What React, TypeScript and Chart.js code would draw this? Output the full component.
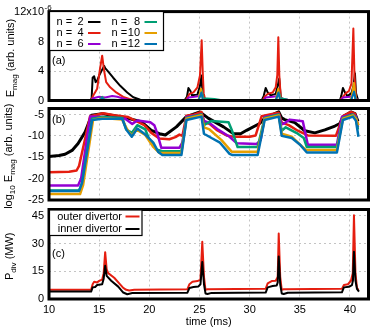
import React, { useEffect, useRef } from 'react';
import { Chart, registerables } from 'chart.js';

Chart.register(...registerables);

const FONT = '"Liberation Sans", Arial, Helvetica, sans-serif';

// ---------- axes ----------
const timeMin = 10;
const timeMax = 41.85;
const timeTicks = [10, 15, 20, 25, 30, 35, 40];
const magTicks = [0, 4, 8, 12];
const logTicks = [-25, -20, -15, -10, -5];
const powTicks = [0, 15, 30, 45];

// ---------- panel (a): E_mag (x1e-6) ----------
const magN2: number[][] = [
  [10, 0], [14.1, 0], [14.25, 0.3], [14.35, 3.1], [14.5, 3.3], [14.65, 2.5], [14.8, 2.7], [15.0, 3.4],
  [15.3, 4.2], [15.5, 4.7], [15.6, 4.4], [15.8, 4.1], [16.4, 3.1], [17.1, 2.0], [17.8, 1.1], [18.4, 0.45],
  [19.1, 0.1], [20, 0], [23.5, 0], [23.75, 0.5], [23.9, 1.7], [24.1, 1.3], [24.25, 0.7], [24.8, 0.8],
  [25.05, 2.0], [25.2, 3.4], [25.3, 1.0], [25.45, 0.1], [26, 0], [31.2, 0], [31.4, 0.6], [31.6, 1.7],
  [31.8, 1.1], [32.1, 0.7], [32.6, 0.9], [32.8, 2.0], [32.95, 3.0], [33.1, 0.5], [33.3, 0], [39.0, 0],
  [39.15, 0.7], [39.3, 1.7], [39.5, 1.1], [39.75, 0.6], [40.15, 1.0], [40.35, 2.0], [40.5, 3.7],
  [40.6, 1.0], [40.8, 0.1],
];
const magN4: number[][] = [
  [10, 0], [14.2, 0], [14.35, 0.5], [14.5, 0.9], [14.8, 1.6], [15.05, 4.0], [15.3, 6.1], [15.5, 4.0],
  [15.7, 2.5], [16.1, 1.8], [16.7, 1.1], [17.4, 0.5], [18.0, 0.2], [18.6, 0], [23.6, 0], [23.8, 0.4],
  [24.0, 0.9], [24.4, 1.1], [24.8, 1.8], [25.05, 3.4], [25.22, 8.2], [25.32, 4.0], [25.42, 1.0],
  [25.55, 0.2], [25.8, 0], [31.3, 0], [31.5, 0.5], [31.8, 0.9], [32.3, 1.1], [32.6, 1.8], [32.76, 3.5],
  [32.86, 8.6], [32.96, 3.4], [33.1, 0.5], [33.3, 0], [39.0, 0], [39.3, 0.5], [39.6, 1.0], [39.9, 1.3],
  [40.15, 2.3], [40.34, 9.8], [40.45, 3.4], [40.6, 0.3], [40.8, 0],
];
const magN6: number[][] = [
  [10, 0], [14.2, 0], [14.4, 0.3], [15.0, 0.5], [15.6, 0.4], [16.3, 0.6], [16.8, 0.5], [17.5, 0.25],
  [18.3, 0], [23.7, 0], [23.9, 0.4], [24.5, 0.5], [25.0, 0.6], [25.2, 1.0], [25.35, 0.3], [26.0, 0.1],
  [27.0, 0], [31.4, 0], [31.6, 0.4], [32.3, 0.5], [32.8, 0.6], [32.9, 1.2], [33.05, 0.3], [33.8, 0.1],
  [34.5, 0], [39.1, 0], [39.3, 0.4], [40.0, 0.5], [40.3, 0.8], [40.4, 1.5], [40.55, 0.3], [40.8, 0],
];
const magN8: number[][] = [
  [10, 0], [15.0, 0], [15.3, 0.5], [15.5, 0.15], [16.5, 0.1], [17.5, 0], [24.9, 0], [25.2, 1.5],
  [25.4, 0.3], [26.5, 0.2], [27.4, 0], [32.6, 0], [32.9, 1.2], [33.1, 0.3], [33.8, 0.1], [34.5, 0],
  [40.1, 0], [40.38, 1.3], [40.55, 0.2], [40.8, 0],
];
const magN10: number[][] = [
  [10, 0], [15.1, 0], [15.3, 0.4], [15.5, 0], [24.9, 0], [25.15, 1.6], [25.35, 0], [32.6, 0],
  [32.85, 1.6], [33.05, 0], [40.1, 0], [40.4, 2.4], [40.6, 0], [40.8, 0],
];
const magN12: number[][] = [
  [10, 0], [15.1, 0], [15.3, 0.4], [15.5, 0], [24.9, 0], [25.2, 1.1], [25.35, 0], [32.6, 0],
  [32.88, 1.1], [33.05, 0], [40.1, 0], [40.42, 1.2], [40.6, 0], [40.8, 0],
];

// ---------- panel (b): log10 E_mag ----------
const logN2: number[][] = [
  [10, -14.8], [11.0, -14.6], [11.6, -14.3], [12.3, -13.4], [12.9, -11.8], [13.6, -9.1], [14.25, -5.2],
  [15.3, -4.8], [16.5, -5.3], [17.9, -5.9], [19.2, -6.7], [20.2, -8.7], [21.0, -9.5], [21.6, -9.8],
  [22.7, -7.9], [23.7, -5.5], [25.05, -4.4], [25.5, -5.2], [25.9, -5.9], [27.4, -7.9], [28.4, -9.5],
  [29.1, -9.5], [29.7, -8.7], [31.0, -7.1], [31.5, -5.9], [32.5, -4.8], [32.9, -4.4], [33.2, -5.8],
  [33.5, -6.2], [34.5, -6.9], [35.5, -8.8], [36.5, -9.3], [37.5, -8.6], [38.5, -7.7], [39.0, -7.1],
  [39.3, -5.5], [40.1, -4.4], [40.5, -4.8], [40.8, -6.6],
];
const logN4: number[][] = [
  [10, -18.5], [12.0, -18.4], [12.75, -18.1], [13.0, -17.0], [14.1, -5.4], [15.4, -4.7], [16.5, -5.2],
  [17.9, -5.6], [19.5, -7.5], [20.2, -9.3], [21.0, -10.6], [22.0, -10.8], [22.6, -10.3], [23.0, -9.7],
  [23.3, -10.0], [23.7, -5.3], [24.5, -5.0], [25.2, -4.4], [25.5, -6.9], [26.0, -7.2], [26.7, -8.6],
  [27.7, -9.9], [28.4, -10.2], [30.0, -10.2], [30.6, -9.9], [31.2, -5.4], [32.0, -5.0], [32.9, -4.6],
  [33.2, -6.9], [33.9, -7.5], [34.8, -8.8], [35.8, -9.9], [38.6, -10.0], [39.3, -5.4], [40.1, -4.4],
  [40.5, -4.8], [40.8, -7.5],
];
const logN6: number[][] = [
  [10, -21.6], [12.9, -21.6], [13.2, -20.0], [14.1, -5.5], [15.4, -5.6], [17.6, -6.0], [18.3, -7.2],
  [18.8, -6.4], [20.1, -6.8], [20.5, -7.5], [20.8, -9.5], [21.2, -12.8], [23.0, -12.8], [23.3, -11.5],
  [23.7, -5.6], [25.2, -5.0], [25.45, -6.5], [26.0, -7.0], [26.9, -8.6], [28.0, -10.2], [28.7, -11.7],
  [30.7, -11.9], [31.1, -11.0], [31.5, -5.6], [32.9, -5.0], [33.2, -7.3], [33.5, -7.0], [34.0, -6.2],
  [35.3, -6.6], [35.8, -12.1], [38.7, -12.1], [39.2, -5.6], [40.3, -5.0], [40.6, -5.5], [40.8, -8.0],
];
const logN8: number[][] = [
  [10, -22.8], [13.0, -22.8], [13.3, -21.0], [14.3, -6.0], [15.3, -5.6], [17.3, -5.8], [17.7, -8.5],
  [18.25, -9.3], [18.8, -7.5], [19.6, -8.5], [20.1, -11.4], [20.7, -13.2], [21.3, -13.6], [23.2, -13.6],
  [23.7, -5.8], [25.2, -5.0], [25.45, -7.5], [25.8, -7.0], [26.2, -6.5], [27.9, -6.8], [28.2, -8.5],
  [28.8, -12.6], [30.8, -12.6], [31.5, -5.8], [32.9, -5.0], [33.2, -8.8], [33.6, -8.0], [34.8, -9.5],
  [35.4, -10.5], [35.7, -12.6], [38.7, -12.6], [39.3, -5.8], [40.3, -5.0], [40.6, -5.8], [40.8, -8.5],
];
const logN10: number[][] = [
  [10, -23.6], [13.1, -23.6], [13.4, -21.5], [14.4, -6.2], [15.3, -5.8], [17.3, -6.2], [17.8, -8.5],
  [18.25, -10.0], [18.7, -8.5], [19.6, -9.8], [20.4, -12.6], [21.0, -14.0], [23.2, -14.0], [23.7, -6.0],
  [25.2, -5.2], [25.45, -8.0], [26.0, -8.5], [27.2, -11.0], [28.2, -13.7], [30.8, -13.7], [31.5, -6.0],
  [32.9, -5.2], [33.2, -9.5], [34.2, -10.2], [35.0, -12.0], [35.6, -13.3], [38.7, -13.3], [39.3, -6.0],
  [40.3, -5.2], [40.6, -6.0], [40.85, -7.5],
];
const logN12: number[][] = [
  [10, -22.9], [13.0, -22.9], [13.3, -21.0], [14.3, -6.3], [15.3, -6.0], [17.3, -6.0], [17.7, -8.5],
  [18.25, -10.2], [18.8, -8.3], [19.6, -9.7], [20.4, -11.6], [20.9, -13.8], [21.3, -14.5], [23.2, -14.5],
  [23.7, -6.3], [25.2, -5.5], [25.45, -9.5], [26.2, -10.5], [27.0, -11.5], [28.0, -14.2], [28.3, -14.5],
  [30.8, -14.5], [31.5, -6.3], [32.9, -5.5], [33.2, -10.0], [34.2, -10.5], [35.0, -12.0], [35.7, -13.9],
  [38.7, -13.9], [39.3, -6.3], [40.3, -5.5], [40.6, -6.5], [40.85, -10.2],
];

// ---------- panel (c): divertor power (MW) ----------
const outerDiv: number[][] = [
  [10, 5.0], [14.2, 5.0], [14.35, 8.0], [14.5, 9.3], [14.8, 9.0], [15.0, 9.8], [15.3, 10.5], [15.45, 14],
  [15.6, 25.4], [15.75, 16], [15.9, 14.0], [16.5, 11.5], [17.0, 8.5], [17.4, 6.0], [17.7, 5.0],
  [18.0, 4.6], [18.5, 5.0], [23.8, 5.3], [24.0, 8.0], [24.3, 9.3], [24.8, 9.7], [25.1, 10.5], [25.28, 31],
  [25.45, 12], [25.6, 5.0], [25.8, 5.3], [31.6, 5.5], [31.8, 8.5], [32.2, 9.7], [32.6, 9.9], [32.8, 12],
  [32.9, 35.5], [33.05, 12], [33.2, 5.0], [33.4, 5.3], [39.2, 5.5], [39.4, 7.6], [39.8, 8.0],
  [40.1, 9.9], [40.28, 14], [40.4, 45.4], [40.55, 14], [40.7, 6], [40.85, 5.0],
];
const innerDiv: number[][] = [
  [10, 4.0], [14.2, 4.0], [14.35, 6.3], [14.6, 6.5], [14.8, 7.6], [15.3, 8.0], [15.45, 11], [15.6, 18],
  [15.75, 12.5], [16.2, 9.9], [16.9, 6.7], [17.4, 3.5], [17.8, 2.6], [18.3, 3.2], [23.8, 3.4],
  [24.0, 6.0], [24.4, 6.5], [24.9, 6.8], [25.1, 8.0], [25.28, 20], [25.45, 8], [25.6, 3.0], [25.8, 2.7],
  [26.2, 3.3], [31.6, 3.5], [31.8, 6.3], [32.3, 7.0], [32.7, 7.3], [32.8, 9], [32.9, 23], [33.05, 8],
  [33.2, 3.0], [33.4, 2.7], [33.8, 3.4], [39.2, 3.6], [39.4, 6.3], [39.9, 6.6], [40.2, 7.5], [40.3, 10],
  [40.4, 25.6], [40.55, 10], [40.7, 5.5], [40.9, 4.0],
];

// ---------- legend labels ----------
const modeNumbers = ['2', '4', '6', '8', '10', '12'];
const divLabels = ['outer divertor', 'inner divertor'];

const C_BLACK = '#000000';
const C_RED = '#e51e10';
const C_PURPLE = '#9400d3';
const C_GREEN = '#009e73';
const C_ORANGE = '#e69f00';
const C_BLUE = '#0072b2';
const modeColors = [C_BLACK, C_RED, C_PURPLE, C_GREEN, C_ORANGE, C_BLUE];

type Seg = { t: string; sub?: boolean };

function drawVerticalRich(ctx: CanvasRenderingContext2D, segs: Seg[], bx: number, cy: number, size: number) {
  ctx.save();
  ctx.translate(bx, cy);
  ctx.rotate(-Math.PI / 2);
  const parts = segs.map((s) => {
    const sz = s.sub ? size * 0.73 : size;
    ctx.font = `${sz}px ${FONT}`;
    return { ...s, sz, w: ctx.measureText(s.t).width };
  });
  const total = parts.reduce((a, p) => a + p.w, 0);
  let x = -total / 2;
  ctx.fillStyle = '#000';
  ctx.textAlign = 'left';
  ctx.textBaseline = 'alphabetic';
  for (const p of parts) {
    ctx.font = `${p.sz}px ${FONT}`;
    ctx.fillText(p.t, x, p.sub ? 3 : 0);
    x += p.w;
  }
  ctx.restore();
}

type PanelDef = {
  id: string;
  series: { data: number[][]; color: string; width: number; order: number }[];
  yMin: number;
  yMax: number;
  yTicks: number[];
  yTickLabel?: (v: number) => string;
  padTop: number;
  padBottom: number;
  showX: boolean;
  tag: string;
  tagY: number;
  title: Seg[];
  titleX: number;
  decorate?: (ctx: CanvasRenderingContext2D, area: any) => void;
};

const decorPlugin = {
  id: 'panelDecor',
  afterDraw(chart: any, _args: any, opts: any) {
    const def: PanelDef = opts.def;
    const ctx: CanvasRenderingContext2D = chart.ctx;
    const a = chart.chartArea;
    ctx.save();
    // border
    ctx.strokeStyle = '#000';
    ctx.lineWidth = 3;
    ctx.strokeRect(a.left, a.top, a.right - a.left, a.bottom - a.top);
    // tag
    ctx.fillStyle = '#000';
    ctx.font = `11px ${FONT}`;
    ctx.textAlign = 'left';
    ctx.textBaseline = 'middle';
    ctx.fillText(def.tag, 52, def.tagY);
    ctx.restore();
    // y title
    drawVerticalRich(ctx, def.title, def.titleX, (a.top + a.bottom) / 2 + 2, 11);
    if (def.decorate) {
      ctx.save();
      def.decorate(ctx, a);
      ctx.restore();
    }
  },
};

function legendA(ctx: CanvasRenderingContext2D) {
  ctx.fillStyle = '#fff';
  ctx.fillRect(49.5, 11.5, 114, 39);
  ctx.strokeStyle = '#000';
  ctx.lineWidth = 1.2;
  ctx.strokeRect(49.5, 11.5, 114, 39);
  ctx.font = `11px ${FONT}`;
  ctx.textBaseline = 'middle';
  ctx.fillStyle = '#000';
  const rows = [22, 33, 44];
  for (let i = 0; i < 6; i++) {
    const col = i < 3 ? 0 : 1;
    const y = rows[i % 3];
    const nx = col === 0 ? 56.5 : 111.5;
    const numRight = col === 0 ? 83.5 : 140;
    const l0 = col === 0 ? 88 : 144.5;
    const l1 = col === 0 ? 100.5 : 157;
    ctx.textAlign = 'left';
    ctx.fillStyle = '#000';
    ctx.fillText('n =', nx, y);
    ctx.textAlign = 'right';
    ctx.fillText(modeNumbers[i], numRight, y);
    ctx.strokeStyle = modeColors[i];
    ctx.lineWidth = 2;
    ctx.beginPath();
    ctx.moveTo(l0, y);
    ctx.lineTo(l1, y);
    ctx.stroke();
  }
  // superscript exponent on the top tick label
  ctx.fillStyle = '#000';
  ctx.font = `8px ${FONT}`;
  ctx.textAlign = 'left';
  ctx.textBaseline = 'alphabetic';
  ctx.fillText('-6', 44.5, 10);
}

function legendC(ctx: CanvasRenderingContext2D) {
  ctx.fillStyle = '#fff';
  ctx.fillRect(49.5, 210, 92.5, 25.5);
  ctx.strokeStyle = '#000';
  ctx.lineWidth = 1.2;
  ctx.strokeRect(49.5, 210, 92.5, 25.5);
  ctx.font = `11px ${FONT}`;
  ctx.textBaseline = 'middle';
  const ys = [216.5, 229];
  const cols = [C_RED, C_BLACK];
  for (let i = 0; i < 2; i++) {
    ctx.fillStyle = '#000';
    ctx.textAlign = 'right';
    ctx.fillText(divLabels[i], 122, ys[i]);
    ctx.strokeStyle = cols[i];
    ctx.lineWidth = 2;
    ctx.beginPath();
    ctx.moveTo(125.5, ys[i]);
    ctx.lineTo(139.5, ys[i]);
    ctx.stroke();
  }
}

const panels: PanelDef[] = [
  {
    id: 'a',
    series: [
      { data: magN2, color: C_BLACK, width: 2, order: 6 },
      { data: magN4, color: C_RED, width: 2, order: 5 },
      { data: magN6, color: C_PURPLE, width: 2, order: 4 },
      { data: magN8, color: C_GREEN, width: 2, order: 3 },
      { data: magN10, color: C_ORANGE, width: 2, order: 2 },
      { data: magN12, color: C_BLUE, width: 2, order: 1 },
    ],
    yMin: 0,
    yMax: 12.1,
    yTicks: magTicks,
    yTickLabel: (v) => (v === 12 ? '12x10' : String(v)),
    padTop: 10,
    padBottom: 332 - 100.5,
    showX: false,
    tag: '(a)',
    tagY: 61,
    title: [{ t: 'E' }, { t: 'mag', sub: true }, { t: ' (arb. units)' }],
    titleX: 13.5,
    decorate: legendA,
  },
  {
    id: 'b',
    series: [
      { data: logN2, color: C_BLACK, width: 3, order: 6 },
      { data: logN4, color: C_RED, width: 2.5, order: 5 },
      { data: logN6, color: C_PURPLE, width: 2.5, order: 4 },
      { data: logN8, color: C_GREEN, width: 2.5, order: 3 },
      { data: logN10, color: C_ORANGE, width: 2.5, order: 2 },
      { data: logN12, color: C_BLUE, width: 2.5, order: 1 },
    ],
    yMin: -25,
    yMax: -3.6,
    yTicks: logTicks,
    padTop: 108.5,
    padBottom: 332 - 200,
    showX: false,
    tag: '(b)',
    tagY: 120,
    title: [{ t: 'log' }, { t: '10', sub: true }, { t: ' E' }, { t: 'mag', sub: true }, { t: ' (arb. units)' }],
    titleX: 11.5,
  },
  {
    id: 'c',
    series: [
      { data: outerDiv, color: C_RED, width: 2, order: 2 },
      { data: innerDiv, color: C_BLACK, width: 2, order: 1 },
    ],
    yMin: 0,
    yMax: 48.5,
    yTicks: powTicks,
    padTop: 209.5,
    padBottom: 0,
    showX: true,
    tag: '(c)',
    tagY: 254,
    title: [{ t: 'P' }, { t: 'div', sub: true }, { t: ' (MW)' }],
    titleX: 13,
    decorate: legendC,
  },
];

function makeConfig(def: PanelDef): any {
  return {
    type: 'line',
    data: {
      datasets: def.series.map((s) => ({
        data: s.data.map(([x, y]) => ({ x, y })),
        borderColor: s.color,
        backgroundColor: s.color,
        borderWidth: s.width,
        pointRadius: 0,
        tension: 0,
        fill: false,
        order: s.order,
        borderJoinStyle: 'round',
      })),
    },
    options: {
      animation: false,
      responsive: false,
      maintainAspectRatio: false,
      events: [],
      layout: {
        autoPadding: false,
        padding: { top: def.padTop, bottom: def.padBottom, left: 0, right: 5.5 },
      },
      plugins: {
        legend: { display: false },
        tooltip: { enabled: false },
        panelDecor: { def },
      },
      scales: {
        x: {
          type: 'linear',
          min: timeMin,
          max: timeMax,
          afterBuildTicks: (s: any) => {
            s.ticks = timeTicks.map((v) => ({ value: v }));
          },
          afterFit: (s: any) => {
            s.height = def.showX ? 33 : 0;
          },
          ticks: {
            display: def.showX,
            font: { family: FONT, size: 11 },
            color: '#000',
            padding: 4,
            maxRotation: 0,
            autoSkip: false,
          },
          grid: { color: '#c4c4c4', lineWidth: 1, drawTicks: false },
          border: { display: false, dash: [2, 3] },
          title: {
            display: def.showX,
            text: 'time (ms)',
            font: { family: FONT, size: 11 },
            color: '#000',
            padding: { top: 0, bottom: 3 },
          },
        },
        y: {
          type: 'linear',
          min: def.yMin,
          max: def.yMax,
          afterBuildTicks: (s: any) => {
            s.ticks = def.yTicks.map((v) => ({ value: v }));
          },
          afterFit: (s: any) => {
            s.width = 49;
          },
          ticks: {
            font: { family: FONT, size: 11 },
            color: '#000',
            padding: 5,
            callback: (v: any) => (def.yTickLabel ? def.yTickLabel(Number(v)) : String(v)),
          },
          grid: { color: '#c4c4c4', lineWidth: 1, drawTicks: false },
          border: { display: false, dash: [2, 3] },
        },
      },
    },
    plugins: [decorPlugin],
  };
}

function Panel({ def }: { def: PanelDef }) {
  const ref = useRef<HTMLCanvasElement | null>(null);
  useEffect(() => {
    if (!ref.current) return;
    const chart = new Chart(ref.current, makeConfig(def));
    return () => chart.destroy();
  }, [def]);
  return (
    <canvas
      ref={ref}
      width={374}
      height={332}
      style={{ position: 'absolute', left: 0, top: 0, width: 374, height: 332, display: 'block' }}
    />
  );
}

export default function App() {
  return (
    <div style={{ position: 'absolute', left: 0, top: 0, width: 374, height: 332, background: '#fff' }}>
      {panels.map((p) => (
        <Panel key={p.id} def={p} />
      ))}
    </div>
  );
}
